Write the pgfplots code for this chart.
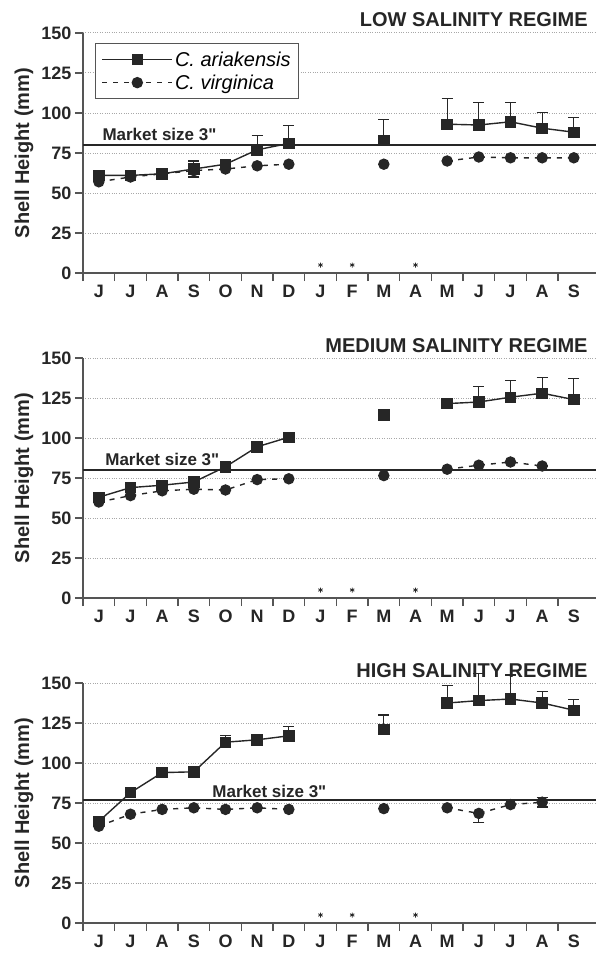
\documentclass[border=0pt]{standalone}
\usepackage{fontspec}
\setmainfont{Liberation Sans}
\newfontfamily\plainq{Liberation Sans}[Ligatures=ResetAll]
\usepackage{pgfplots}
\usepackage{pgfplotstable}
\pgfplotsset{compat=1.18}

\definecolor{ink}{HTML}{262626}
\definecolor{axgray}{HTML}{555555}
\definecolor{gridgray}{HTML}{A8A8A8}

\newcommand{\inch}{{\plainq\bfseries\char34}}

% columns: month index, C. ariakensis (+err, -err), C. virginica (+err, -err)
\pgfplotstableread{
x a ap am v vp vm
0 61 3 3 57 0 0
1 61 2 2 60 0 0
2 62 2 2 62 0 0
3 65 5 5 64 0 0
4 68 3 3 65 0 0
5 77 9 0 67 0 0
6 81 11 0 68 0 0
7 nan 0 0 nan 0 0
9 83 13 0 68 0 0
10 nan 0 0 nan 0 0
11 93 16 0 70 0 0
12 92.5 14 0 72.5 0 0
13 94.5 12 0 72 0 0
14 90.5 10 0 72 0 0
15 88 9 0 72 0 0
}\lowtab

\pgfplotstableread{
x a ap am v vp vm
0 63 2 2 60 0 0
1 69 2 2 64 0 0
2 70.5 2 2 67 0 0
3 72.5 2 2 68 0 0
4 82 0 0 67.5 0 0
5 94.5 0 0 74 0 0
6 100.5 0 0 74.5 0 0
7 nan 0 0 nan 0 0
9 114.5 0 0 76.5 0 0
10 nan 0 0 nan 0 0
11 121.5 0 0 80.5 0 0
12 122.5 9.5 0 83 0 0
13 125.5 10.5 0 85 0 0
14 128 10 0 82.5 0 0
15 124 13 0 nan 0 0
}\medtab

\pgfplotstableread{
x a ap am v vp vm
0 63.5 3 3 60.5 0 0
1 81.5 0 0 68 0 0
2 94 0 0 71 0 0
3 94.5 0 0 72 0 0
4 113 4 0 71 0 0
5 114.5 2 0 72 0 0
6 117 6 0 71 0 0
7 nan 0 0 nan 0 0
9 121 9 0 71.5 0 0
10 nan 0 0 nan 0 0
11 137.5 11 0 72 0 0
12 139 17 0 68.5 0 5.5
13 140 15 0 74 0 0
14 137.5 7 0 75.5 3 3
15 133 6.5 0 nan 0 0
}\hightab

\pgfplotsset{
  panel/.style={
    scale only axis, width=513bp, height=240bp,
    xmin=-0.5, xmax=15.7, ymin=0, ymax=150,
    clip=false,
    axis x line*=bottom, axis y line*=left,
    axis line style={axgray, line width=1.6bp},
    font=\fontsize{18bp}{20bp}\selectfont,
    /pgf/number format/assume math mode=true,
    xtick={0,...,15},
    xticklabels={J,J,A,S,O,N,D,J,F,M,A,M,J,J,A,S},
    major x tick style={draw=none},
    minor xtick={-0.5,0.5,...,14.5},
    ytick={0,25,...,150},
    tick align=outside,
    major tick length=8bp, minor tick length=8bp,
    tick style={axgray, line width=1.2bp},
    ticklabel style={ink, font=\fontsize{18bp}{20bp}\bfseries},
    xticklabel style={text height=13bp, text depth=0pt},
    ymajorgrids, grid style={gridgray, dotted, line width=1bp},
    ylabel={Shell Height (mm)},
    ylabel style={at={(axis description cs:-0.115,0.5)}, anchor=center,
      font=\fontsize{20bp}{22bp}\bfseries, text=ink},
    unbounded coords=jump,
    legend image code/.code={%
      \draw[mark repeat=2,mark phase=2,#1] plot coordinates {(0bp,0bp) (35bp,0bp) (70bp,0bp)};},
  },
  ariak/.style={ink, line width=1.4bp, solid, mark=square*, mark size=5bp,
    mark options={solid},
    error bars/.cd, y dir=both, y explicit,
    error bar style={ink, line width=1.3bp, solid},
    error mark options={ink, line width=1.3bp, mark size=5.5bp, solid, rotate=90}},
  virg/.style={ink, line width=1.4bp, dash pattern=on 5bp off 6bp, mark=*, mark size=5bp,
    mark options={solid},
    error bars/.cd, y dir=both, y explicit,
    error bar style={ink, line width=1.3bp, solid},
    error mark options={ink, line width=1.3bp, mark size=5.5bp, solid, rotate=90}},
  market/.style={ink, line width=1.8bp, no marks, forget plot},
  star/.style={only marks, mark=asterisk, mark size=2.5bp, ink, line width=0.8bp, forget plot},
}

\begin{document}
\begin{tikzpicture}
% ---- low salinity
\begin{axis}[panel, at={(0bp,0bp)}, anchor=south west,
  legend style={at={(axis description cs:0.0234,0.958)}, anchor=north west,
    draw=axgray, line width=1.2bp, font=\fontsize{20bp}{22bp}\itshape\selectfont,
    inner xsep=6bp, inner ysep=6bp, row sep=3bp, cells={anchor=west}}]
  \addplot[ariak] table[x=x, y=a, y error plus=ap, y error minus=am] {\lowtab};
  \addlegendentry{C. ariakensis}
  \addplot[virg] table[x=x, y=v, y error plus=vp, y error minus=vm] {\lowtab};
  \addlegendentry{C. virginica}
  \addplot[market] coordinates {(-0.5,80) (15.7,80)};
  \addplot[star] coordinates {(7,5) (8,5) (10,5)};
  \node[anchor=south west, inner sep=0, font=\fontsize{17bp}{19bp}\bfseries, text=ink]
    at (axis cs:0.11,80) [yshift=4bp] {Market size 3\inch};
  \node[anchor=south east, inner sep=0, font=\fontsize{20bp}{22bp}\bfseries, text=ink]
    at (rel axis cs:0.984,1) [yshift=6bp] {LOW SALINITY REGIME};
\end{axis}
% ---- medium salinity
\begin{axis}[panel, at={(0bp,-325bp)}, anchor=south west]
  \addplot[ariak] table[x=x, y=a, y error plus=ap, y error minus=am] {\medtab};
  \addplot[virg] table[x=x, y=v, y error plus=vp, y error minus=vm] {\medtab};
  \addplot[market] coordinates {(-0.5,80) (15.7,80)};
  \addplot[star] coordinates {(7,5) (8,5) (10,5)};
  \node[anchor=south west, inner sep=0, font=\fontsize{17bp}{19bp}\bfseries, text=ink]
    at (axis cs:0.2,80) [yshift=4bp] {Market size 3\inch};
  \node[anchor=south east, inner sep=0, font=\fontsize{20bp}{22bp}\bfseries, text=ink]
    at (rel axis cs:0.984,1) [yshift=5bp] {MEDIUM SALINITY REGIME};
\end{axis}
% ---- high salinity
\begin{axis}[panel, at={(0bp,-650bp)}, anchor=south west]
  \addplot[ariak] table[x=x, y=a, y error plus=ap, y error minus=am] {\hightab};
  \addplot[virg] table[x=x, y=v, y error plus=vp, y error minus=vm] {\hightab};
  \addplot[market] coordinates {(-0.5,77) (15.7,77)};
  \addplot[star] coordinates {(7,5) (8,5) (10,5)};
  \node[anchor=south west, inner sep=0, font=\fontsize{17bp}{19bp}\bfseries, text=ink]
    at (axis cs:3.58,77) [yshift=2bp] {Market size 3\inch};
  \node[anchor=south east, inner sep=0, font=\fontsize{20bp}{22bp}\bfseries, text=ink]
    at (rel axis cs:0.984,1) [yshift=5bp] {HIGH SALINITY REGIME};
\end{axis}
\pgfresetboundingbox
\useasboundingbox (-83bp,273bp) rectangle (513bp,-685bp);
\end{tikzpicture}
\end{document}
